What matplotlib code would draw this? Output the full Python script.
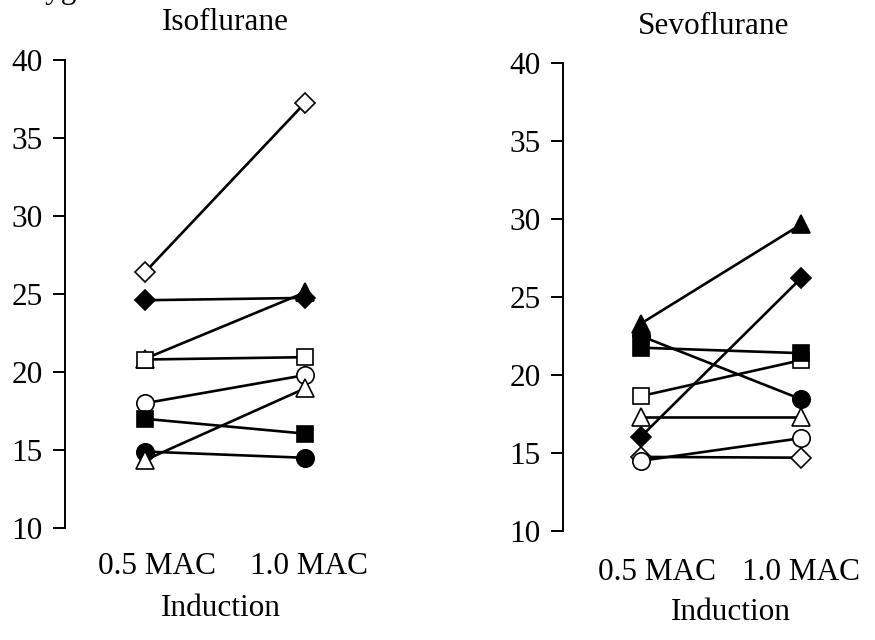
import matplotlib
matplotlib.use("Agg")
import matplotlib.pyplot as plt

# ---- data ----
doses = ["0.5 MAC", "1.0 MAC"]
subject_markers = ["D", "D", "^", "s", "o", "s", "o", "^"]
subject_filled = [False, True, True, False, False, True, True, False]

iso_05 = [26.4, 24.6, 20.85, 20.8, 18.0, 17.0, 14.9, 14.35]
iso_10 = [37.25, 24.75, 25.1, 20.95, 19.8, 16.05, 14.5, 18.95]

sevo_marker_order = ["D", "D", "^", "s", "o", "s", "o", "^"]
sevo_filled = [False, True, True, False, False, True, True, False]
sevo_05 = [14.75, 16.05, 23.3, 18.65, 14.5, 21.75, 22.5, 17.3]
sevo_10 = [14.7, 26.2, 29.65, 20.95, 15.95, 21.4, 18.45, 17.3]

yticks = [10, 15, 20, 25, 30, 35, 40]

plt.rcParams["font.family"] = ["Liberation Serif", "DejaVu Serif"]
FS = 22.5

W, H = 875, 640
fig = plt.figure(figsize=(W / 100, H / 100), dpi=100)


def px_axes(left, top, right, bottom):
    return fig.add_axes([left / W, 1 - bottom / H, (right - left) / W, (bottom - top) / H])


def draw_panel(ax, v05, v10, markers, filled, x0_px, x1_px, spine_px, right_px, small_first=False):
    unit = x1_px - x0_px
    ax.set_xlim(-(x0_px - spine_px) / unit, (right_px - x0_px) / unit)
    ax.set_ylim(10, 40)
    for a, b in zip(v05, v10):
        ax.plot([0, 1], [a, b], color="black", lw=1.9, zorder=2,
                solid_capstyle="butt")
    for i, (a, b, m, f) in enumerate(zip(v05, v10, markers, filled)):
        ms = {"D": 10.5, "^": 12.5, "s": 11.5, "o": 12.5}[m]
        ax.plot([0, 1], [a, b], linestyle="none", marker=m, markersize=ms,
                markerfacecolor="black" if f else "white",
                markeredgecolor="black", markeredgewidth=1.2, zorder=3,
                clip_on=False)
    for s in ["top", "right", "bottom"]:
        ax.spines[s].set_visible(False)
    ax.spines["left"].set_linewidth(1.4)
    ax.set_yticks(yticks)
    ax.set_yticklabels([str(t) for t in yticks], fontsize=FS)
    ax.tick_params(axis="y", length=9, width=1.4, pad=7)
    ax.set_xticks([])
    ax.patch.set_alpha(0)


ax1 = px_axes(65, 60, 385, 528)
draw_panel(ax1, iso_05, iso_10, subject_markers, subject_filled, 145, 305, 65, 385)

ax2 = px_axes(563, 63, 875, 531)
draw_panel(ax2, sevo_05, sevo_10, sevo_marker_order, sevo_filled, 641, 801, 563, 875)

# dose labels under each panel
lab_pos_left = [(157, 567), (309, 567)]
lab_pos_right = [(657, 572), (801, 572)]
for (x, y), t in zip(lab_pos_left, doses):
    fig.text(x / W, 1 - y / H, t, ha="center", va="center", fontsize=FS)
for (x, y), t in zip(lab_pos_right, doses):
    fig.text(x / W, 1 - y / H, t, ha="center", va="center", fontsize=FS)

fig.text(225 / W, 1 - 22 / H, "Isoflurane", ha="center", va="center", fontsize=FS)
fig.text(714 / W, 1 - 26 / H, "Sevoflurane", ha="center", va="center", fontsize=FS)
fig.text(221 / W, 1 - 608 / H, "Induction", ha="center", va="center", fontsize=FS)
fig.text(731 / W, 1 - 612 / H, "Induction", ha="center", va="center", fontsize=FS)

# cropped heading at top-left edge (cut off in the source image as well)
fig.text(8 / W, 1 + 2 / H, "Oxygen", ha="left", va="baseline", fontsize=FS)

fig.savefig("out.png", dpi=100, facecolor="white")
